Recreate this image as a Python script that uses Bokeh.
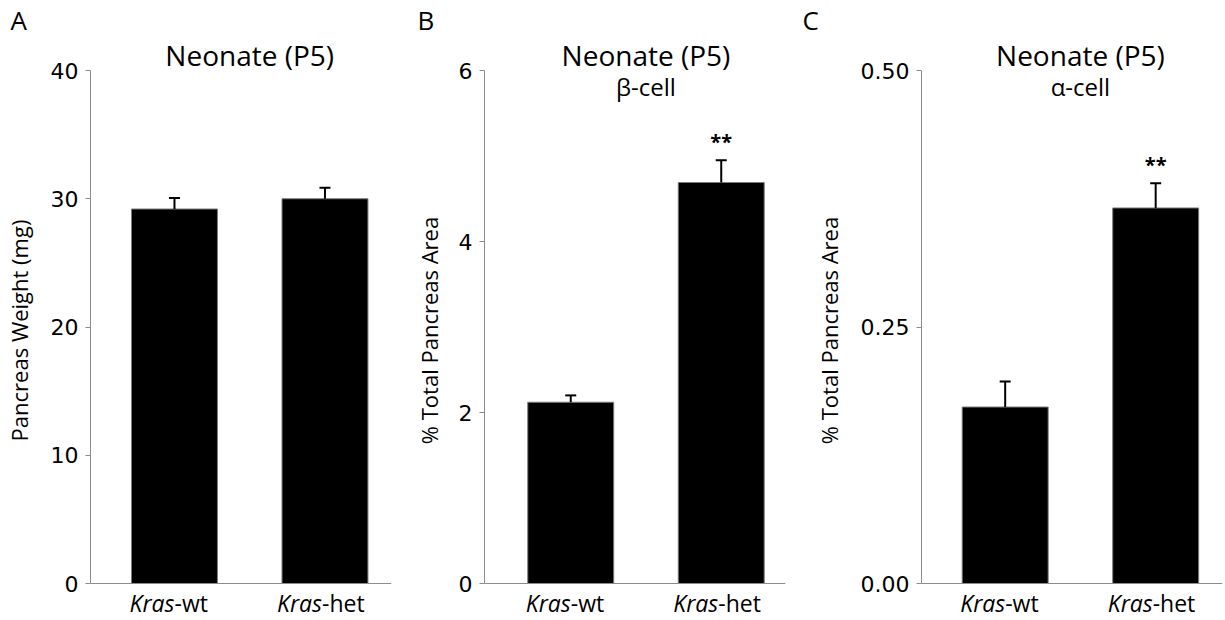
from bokeh.plotting import figure
from bokeh.layouts import row
from bokeh.models import Range1d, FactorRange, FixedTicker, ColumnDataSource, NumeralTickFormatter, Span
from bokeh.transform import dodge
from bokeh.embed import file_html
from bokeh.resources import INLINE
from bokeh.core.properties import value

# ---------------- data ----------------
categories = ["Kras-wt", "Kras-het"]
cat_gene = ["Kras", "Kras"]
cat_suffix = ["-wt", "-het"]

weight_mean = [29.2, 30.0]
weight_sem = [0.85, 0.85]
weight_sig = ["", ""]
weight_ticks = [0, 10, 20, 30, 40]

beta_mean = [2.12, 4.69]
beta_sem = [0.08, 0.26]
beta_sig = ["", "**"]
beta_ticks = [0, 2, 4, 6]

alpha_mean = [0.172, 0.366]
alpha_sem = [0.025, 0.024]
alpha_sig = ["", "**"]
alpha_ticks = [0.0, 0.25, 0.50]

# ---------------- style / layout ----------------
AX = "#8c8c8c"
FONT = "Open Sans"
TICK_FONT = "DejaVu Sans"
FW = 301
TOP_BORDER = 40          # frame top (px)
AXIS_TOP_PX = 70         # pixel row of the top tick
AXIS_ZERO_PX = 583       # pixel row of zero
FIG_H = 620
BAR_W = 0.571


def panel(letter, title, subtitle, ylabel, means, sems, sig, ticks, fmt,
          left, right, tick_standoff, label_standoff, letter_dx, dodge_v, splits):
    top = ticks[-1]
    k = (AXIS_ZERO_PX - AXIS_TOP_PX) / top          # px per unit
    y_start = -(FIG_H - AXIS_ZERO_PX) / k
    y_end = top + (AXIS_TOP_PX - TOP_BORDER) / k
    p = figure(x_range=FactorRange(factors=categories, range_padding=0),
               y_range=Range1d(y_start, y_end),
               frame_width=FW, frame_height=FIG_H - TOP_BORDER,
               min_border_left=left, min_border_right=right,
               min_border_top=TOP_BORDER, min_border_bottom=0,
               x_axis_location=None,
               output_backend="svg", toolbar_location=None)
    p.outline_line_color = None
    p.xgrid.visible = False
    p.ygrid.visible = False
    p.background_fill_color = "white"
    p.border_fill_color = "white"

    # panel letter as the plot title
    p.title.text = letter
    p.title.align = "left"
    p.title.offset = letter_dx
    p.title.vertical_align = "top"
    p.title.standoff = 2
    p.title.text_font = FONT
    p.title.text_font_size = "26px"
    p.title.text_font_style = "normal"
    p.title.text_color = "black"

    ya = p.yaxis[0]
    ya.bounds = (ticks[0], ticks[-1])
    ya.ticker = FixedTicker(ticks=ticks)
    if fmt:
        ya.formatter = NumeralTickFormatter(format=fmt)
    ya.axis_line_color = AX
    ya.axis_line_width = 1
    ya.major_tick_line_color = AX
    ya.major_tick_out = 5
    ya.major_tick_in = 0
    ya.minor_tick_line_color = None
    ya.major_label_text_font = TICK_FONT
    ya.major_label_text_font_size = "22px"
    ya.major_label_text_color = "black"
    ya.major_label_standoff = tick_standoff
    ya.axis_label = ylabel
    ya.axis_label_text_font = FONT
    ya.axis_label_text_font_size = "22px"
    ya.axis_label_text_font_style = "normal"
    ya.axis_label_text_color = "black"
    ya.axis_label_standoff = label_standoff

    # x axis line at zero
    p.add_layout(Span(location=ticks[0], dimension="width", line_color=AX, line_width=1))

    src = ColumnDataSource(dict(
        cat=categories, mean=means,
        upper=[m + s for m, s in zip(means, sems)], sig=sig,
        gene=cat_gene, suffix=cat_suffix, base=[ticks[0]] * len(categories),
        split=splits))
    xd = dodge("cat", dodge_v, range=p.x_range)
    p.vbar(x=xd, top="mean", bottom=0, width=BAR_W, source=src,
           fill_color="black", line_color="#7a7a7a", line_width=1)
    p.segment(x0=xd, y0="mean", x1=xd, y1="upper", source=src,
              line_color="black", line_width=2)
    p.scatter(x=xd, y="upper", marker="dash", size=11, source=src,
              line_color="black", line_width=2)
    p.text(x=xd, y="upper", text="sig", source=src, text_align="center",
           text_baseline="alphabetic", y_offset=-19,
           text_font=value(FONT), text_font_size="20px", text_font_style="bold",
           text_color="black")

    # category labels: italic gene name + upright suffix
    p.text(x=xd, y="base", text="gene", source=src, x_offset="split", y_offset=19,
           text_align="right", text_baseline="alphabetic",
           text_font=value(FONT), text_font_size="23px", text_font_style="italic",
           text_color="black")
    p.text(x=xd, y="base", text="suffix", source=src, x_offset="split", y_offset=19,
           text_align="left", text_baseline="alphabetic",
           text_font=value(FONT), text_font_size="23px", text_font_style="normal",
           text_color="black")

    # title and subtitle centred over the bars
    n = len(categories)
    tsrc = ColumnDataSource(dict(x=[n / 2 + dodge_v], y=[top], t=[title],
                                 s=[subtitle or ""]))
    p.text(x="x", y="y", text="t", source=tsrc, y_offset=-16,
           text_align="center", text_baseline="alphabetic",
           text_font=value(FONT), text_font_size="28px", text_color="black")
    if subtitle:
        p.text(x="x", y="y", text="s", source=tsrc, y_offset=16,
               text_align="center", text_baseline="alphabetic",
               text_font=value(FONT), text_font_size="24px", text_color="black")
    return p


pA = panel("A", "Neonate (P5)", None, "Pancreas Weight (mg)",
           weight_mean, weight_sem, weight_sig, weight_ticks, None,
           88, 16, 7, 14, -80, 0.058, [0, -3])
pB = panel("B", "Neonate (P5)", "β-cell", "% Total Pancreas Area",
           beta_mean, beta_sem, beta_sig, beta_ticks, None,
           77, 17, 7, 12, -67, 0.073, [0, -3])
pC = panel("C", "Neonate (P5)", "α-cell", "% Total Pancreas Area",
           alpha_mean, alpha_sem, alpha_sig, alpha_ticks, "0.00",
           119, 5, 7, 14, -119, 0.056, [0, -3])

layout = row(pA, pB, pC)
open("out.html", "w").write(file_html(layout, INLINE))
